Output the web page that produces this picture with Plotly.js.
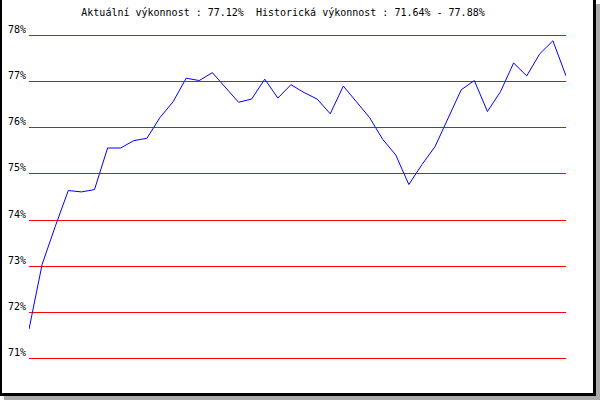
<!DOCTYPE html>
<html>
<head>
<meta charset="utf-8">
<script src="https://cdn.plot.ly/plotly-3.0.1.min.js"></script>
<style>
  html, body { margin: 0; padding: 0; background: #fff; }
  #wrap { position: relative; width: 600px; height: 400px; }
  #chart { position: absolute; left: 0; top: 0; width: 600px; height: 400px; }
  #frame { position: absolute; left: 0; top: 0; width: 596px; height: 396px; box-sizing: border-box;
           border-left: 2px solid #000; border-right: 3px solid #000; border-bottom: 3px solid #000;
           box-shadow: 4px 4px 0 0 #aaaaaa; pointer-events: none; }
</style>
</head>
<body>
<div id="wrap"><div id="chart"></div><div id="frame"></div></div>
<script>
// Performance values (%), one per period
const performance = [
  71.64, 73.04, 73.86, 74.64, 74.61, 74.66, 75.56, 75.56, 75.72, 75.77,
  76.22, 76.56, 77.07, 77.02, 77.19, 76.87, 76.55, 76.62, 77.05, 76.64,
  76.93, 76.76, 76.62, 76.30, 76.90, 76.56, 76.22, 75.75, 75.41, 74.77,
  75.20, 75.59, 76.21, 76.82, 77.02, 76.35, 76.78, 77.40, 77.12, 77.60,
  77.88, 77.12
];
const periods = performance.map((_, i) => i);
const yTicks = [71, 72, 73, 74, 75, 76, 77, 78];
const yTickLabels = yTicks.map(v => v + '%');
const titleText = 'Aktuální výkonnost : 77.12%  Historická výkonnost : 71.64% - 77.88%';

const mono = 'DejaVu Sans Mono, monospace';

Plotly.newPlot('chart', [{
  x: periods,
  y: performance,
  type: 'scatter',
  mode: 'lines',
  line: { color: '#0000ff', width: 1 },
  hoverinfo: 'skip'
}], {
  width: 600,
  height: 400,
  paper_bgcolor: '#ffffff',
  plot_bgcolor: '#ffffff',
  showlegend: false,
  margin: { l: 29, r: 34, t: 26, b: 31.5, pad: 0 },
  title: {
    text: titleText,
    font: { family: mono, size: 10, color: '#000' },
    x: 283 / 600,
    xanchor: 'center',
    xref: 'container',
    y: 1 - 12.5 / 400,
    yanchor: 'middle',
    yref: 'container'
  },
  xaxis: {
    range: [0, 41],
    visible: false,
    showgrid: false,
    zeroline: false
  },
  yaxis: {
    range: [70.8, 78.2],
    tickvals: yTicks,
    ticktext: yTickLabels,
    showgrid: true,
    gridcolor: '#ff0000',
    gridwidth: 1,
    zeroline: false,
    showline: false,
    ticks: '',
    ticklabelshift: -6,
    ticklabelstandoff: 2,
    tickfont: { family: mono, size: 10, color: '#000' }
  }
}, { staticPlot: true, displayModeBar: false });
</script>
</body>
</html>
